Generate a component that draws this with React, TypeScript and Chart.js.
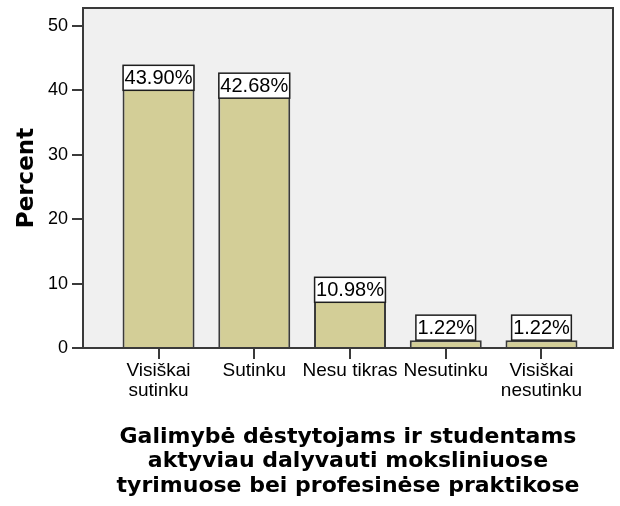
import React, { useEffect, useRef } from "react";
import { Chart, registerables } from "chart.js";

Chart.register(...registerables);

const categories: string[][] = [
  ["Visiškai", "sutinku"],
  ["Sutinku"],
  ["Nesu tikras"],
  ["Nesutinku"],
  ["Visiškai", "nesutinku"],
];
const percents = [43.9, 42.68, 10.98, 1.22, 1.22];
const yTicks = [0, 10, 20, 30, 40, 50];
const yTitle = "Percent";
const xTitle = [
  "Galimybė dėstytojams ir studentams",
  "aktyviau dalyvauti moksliniuose",
  "tyrimuose bei profesinėse praktikose",
];

const SANS = '"Liberation Sans", Arial, sans-serif';
const BOLD = '"DejaVu Sans", Verdana, sans-serif';
const FRAME = "#3a3a3a";

const framePlugin = {
  id: "spssFrame",
  beforeDraw(chart: any) {
    const { ctx, chartArea: a } = chart;
    ctx.save();
    ctx.fillStyle = "#f0f0f0";
    ctx.fillRect(a.left, a.top, a.right - a.left, a.bottom - a.top);
    ctx.restore();
  },
  afterDatasetsDraw(chart: any) {
    const { ctx, chartArea: a } = chart;
    ctx.save();
    ctx.strokeStyle = FRAME;
    ctx.lineWidth = 2;
    ctx.strokeRect(a.left, a.top, a.right - a.left, a.bottom - a.top);

    const meta = chart.getDatasetMeta(0);
    ctx.font = `20px ${SANS}`;
    meta.data.forEach((bar: any, i: number) => {
      const { x, y, base } = bar.getProps(["x", "y", "base"], true);
      const text = percents[i].toFixed(2) + "%";
      const tw = ctx.measureText(text).width;
      const w = tw + 3;
      const h = 25;
      const top = base - y >= h ? y : y - h;
      ctx.fillStyle = "#ffffff";
      ctx.fillRect(x - w / 2, top, w, h);
      ctx.strokeStyle = "#1e1e1e";
      ctx.lineWidth = 1.5;
      ctx.strokeRect(x - w / 2, top, w, h);
      ctx.fillStyle = "#000";
      ctx.textAlign = "center";
      ctx.textBaseline = "middle";
      ctx.fillText(text, x, top + h / 2 + 1);
    });
    ctx.restore();
  },
};

export default function App() {
  const ref = useRef<HTMLCanvasElement>(null);
  useEffect(() => {
    document.body.style.margin = "0";
    const chart = new Chart(ref.current as HTMLCanvasElement, {
      type: "bar",
      data: {
        datasets: [
          {
            data: percents.map((v, i) => ({ x: i, y: v })),
            backgroundColor: "#d3ce97",
            borderColor: FRAME,
            borderWidth: 2,
            categoryPercentage: 0.752,
            barPercentage: 1,
          },
        ],
      },
      options: {
        animation: false,
        responsive: false,
        maintainAspectRatio: false,
        layout: { padding: { left: 0, right: 7, top: 8, bottom: 0 } },
        plugins: { legend: { display: false }, tooltip: { enabled: false } },
        scales: {
          x: {
            type: "linear",
            min: -0.789,
            max: 4.747,
            offset: false,
            afterBuildTicks: (s: any) => {
              s.ticks = categories.map((_, i) => ({ value: i }));
            },
            afterFit: (s: any) => {
              s.height = 158;
              s.paddingLeft = 0;
              s.paddingRight = 0;
            },
            ticks: {
              callback: (v: any) => categories[v] ?? "",
              font: { family: SANS, size: 19, lineHeight: 1.05 },
              color: "#000",
              padding: 2,
              maxRotation: 0,
              autoSkip: false,
            },
            grid: {
              display: true,
              offset: false,
              drawOnChartArea: false,
              drawTicks: true,
              tickLength: 11,
              color: FRAME,
              lineWidth: 2,
            },
            border: { display: false },
            title: {
              display: true,
              text: xTitle,
              color: "#000",
              font: { family: BOLD, size: 22, weight: "bold", lineHeight: 1.1 },
              padding: { top: 8, bottom: 8 },
            },
          },
          y: {
            type: "linear",
            min: 0,
            max: 52.8,
            afterBuildTicks: (s: any) => {
              s.ticks = yTicks.map((v) => ({ value: v }));
            },
            afterFit: (s: any) => {
              s.width = 83;
              s.paddingTop = 0;
              s.paddingBottom = 0;
            },
            ticks: {
              font: { family: SANS, size: 18 },
              color: "#000",
              padding: 4,
            },
            grid: {
              display: true,
              drawOnChartArea: false,
              drawTicks: true,
              tickLength: 11,
              color: FRAME,
              lineWidth: 2,
            },
            border: { display: false },
            title: {
              display: true,
              text: yTitle,
              color: "#000",
              font: { family: BOLD, size: 23, weight: "bold", lineHeight: 1.2 },
              padding: { top: 13, bottom: 0 },
            },
          },
        },
      },
      plugins: [framePlugin],
    } as any);
    return () => chart.destroy();
  }, []);
  return (
    <div style={{ width: 620, height: 506 }}>
      <canvas ref={ref} width={620} height={506} style={{ display: "block", width: 620, height: 506 }} />
    </div>
  );
}
